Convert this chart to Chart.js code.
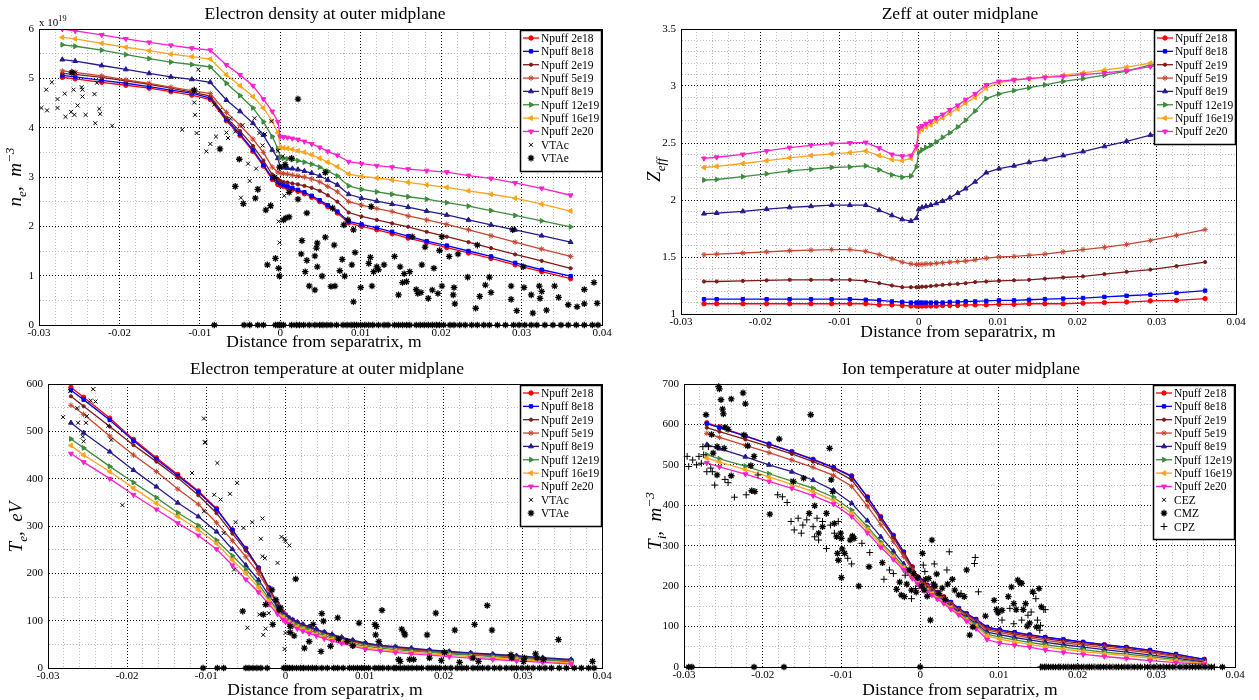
<!DOCTYPE html>
<html>
<head>
<meta charset="utf-8">
<title>Outer midplane profiles</title>
<script src="https://cdn.jsdelivr.net/npm/chart.js@4.4.1/dist/chart.umd.min.js"></script>
<style>
  html, body { margin: 0; padding: 0; background: #fff; }
  #page { position: relative; width: 1259px; height: 700px; overflow: hidden;
          font-family: "Liberation Serif", "Times New Roman", serif; color: #000; }
  canvas { position: absolute; }
  .lbl  { position: absolute; white-space: nowrap; transform: translate(-50%, -50%);
          font-size: 17.5px; z-index: 2; }
  .ylab { position: absolute; white-space: nowrap; transform: translate(-50%, -50%) rotate(-90deg);
          font-size: 19px; font-style: italic; z-index: 2; }
  .ylab sub, .ylab sup { font-size: 70%; }
  .exp  { position: absolute; left: 39px; top: 14px; font-size: 11px; z-index: 2; }
  .exp sup { font-size: 75%; }
</style>
</head>
<body>
<div id="page">
  <canvas id="neChart"   width="615" height="330" style="left:0px;top:14px"></canvas>
  <canvas id="zeffChart" width="620" height="319" style="left:630px;top:14px"></canvas>
  <canvas id="teChart"   width="615" height="318" style="left:0px;top:369px"></canvas>
  <canvas id="tiChart"   width="620" height="317" style="left:630px;top:369px"></canvas>

  <div class="lbl" style="left:325px;top:13px">Electron density at outer midplane</div>
  <div class="lbl" style="left:960px;top:13px">Zeff at outer midplane</div>
  <div class="lbl" style="left:327px;top:368px">Electron temperature at outer midplane</div>
  <div class="lbl" style="left:961px;top:368px">Ion temperature at outer midplane</div>

  <div class="lbl" style="left:324px;top:341px">Distance from separatrix, m</div>
  <div class="lbl" style="left:958px;top:331px">Distance from separatrix, m</div>
  <div class="lbl" style="left:325px;top:689px">Distance from separatrix, m</div>
  <div class="lbl" style="left:960px;top:689px">Distance from separatrix, m</div>

  <div class="ylab" style="left:16px;top:177px">n<sub>e</sub>,&nbsp; m<sup>&minus;3</sup></div>
  <div class="ylab" style="left:656px;top:170px">Z<sub>eff</sub></div>
  <div class="ylab" style="left:18px;top:527px">T<sub>e</sub>,&nbsp; eV</div>
  <div class="ylab" style="left:656px;top:521px">T<sub>i</sub>,&nbsp; m<sup>&minus;3</sup></div>

  <div class="exp">x 10<sup>19</sup></div>
</div>

<script>
// ---- data -------------------------------------------------------------

// radial positions of the simulation cells (m)
const xGrid = [-0.0271, -0.0255, -0.0222, -0.0192, -0.0163, -0.0136, -0.0110, -0.0087, -0.0067, -0.0050,
  -0.0034, -0.0021, -0.0010, -0.0003, 0.0000, 0.0004, 0.0009, 0.0015, 0.0022, 0.0030, 0.0039, 0.0049,
  0.0059, 0.0071, 0.0085, 0.0101, 0.0120, 0.0139, 0.0159, 0.0182, 0.0207, 0.0234, 0.0262, 0.0292, 0.0325, 0.0361];

const caseLabels = ['Npuff 2e18', 'Npuff 8e18', 'Npuff 2e19', 'Npuff 5e19',
                    'Npuff 8e19', 'Npuff 12e19', 'Npuff 16e19', 'Npuff 2e20'];

// electron density, 1e19 m^-3
const ne2e18  = [5.02,4.99,4.92,4.86,4.80,4.73,4.66,4.57,4.14,3.84,3.52,3.22,2.95,2.85,2.83,2.81,2.78,2.75,2.71,2.66,2.59,2.50,2.40,2.27,2.07,2.00,1.93,1.85,1.76,1.67,1.57,1.46,1.35,1.22,1.08,0.94];
const ne8e18  = [5.06,5.03,4.96,4.90,4.83,4.76,4.70,4.60,4.17,3.87,3.55,3.25,2.98,2.90,2.87,2.84,2.81,2.78,2.74,2.69,2.62,2.53,2.43,2.30,2.10,2.04,1.97,1.89,1.80,1.70,1.61,1.50,1.39,1.26,1.12,0.99];
const ne2e19  = [5.10,5.08,5.02,4.95,4.88,4.80,4.72,4.64,4.20,3.93,3.63,3.33,3.05,2.96,2.92,2.90,2.89,2.87,2.85,2.82,2.78,2.72,2.63,2.50,2.28,2.20,2.13,2.06,1.99,1.89,1.79,1.68,1.56,1.43,1.30,1.15];
const ne5e19  = [5.15,5.12,5.05,4.97,4.90,4.82,4.75,4.69,4.31,4.05,3.77,3.50,3.20,3.10,3.08,3.07,3.06,3.04,3.02,3.00,2.96,2.90,2.81,2.70,2.50,2.43,2.36,2.30,2.21,2.13,2.04,1.93,1.81,1.68,1.54,1.39];
const ne8e19  = [5.38,5.35,5.26,5.18,5.10,5.03,4.98,4.92,4.56,4.33,4.09,3.85,3.55,3.38,3.20,3.19,3.18,3.17,3.15,3.12,3.08,3.02,2.94,2.84,2.65,2.57,2.51,2.45,2.39,2.31,2.23,2.13,2.03,1.93,1.81,1.68];
const ne12e19 = [5.68,5.65,5.57,5.48,5.40,5.33,5.28,5.23,4.90,4.65,4.40,4.12,3.82,3.58,3.39,3.38,3.37,3.35,3.33,3.30,3.26,3.20,3.12,3.02,2.82,2.75,2.70,2.65,2.60,2.55,2.48,2.41,2.32,2.22,2.11,1.99];
const ne16e19 = [5.83,5.80,5.71,5.63,5.56,5.49,5.44,5.39,5.07,4.85,4.63,4.40,4.13,3.90,3.60,3.59,3.58,3.56,3.53,3.50,3.45,3.38,3.30,3.21,3.06,3.01,2.98,2.94,2.89,2.84,2.79,2.72,2.65,2.57,2.45,2.31];
const ne2e20  = [6.00,5.96,5.88,5.80,5.73,5.67,5.61,5.57,5.27,5.07,4.85,4.58,4.33,4.12,3.82,3.81,3.80,3.78,3.76,3.72,3.67,3.60,3.52,3.44,3.31,3.27,3.23,3.20,3.16,3.13,3.10,3.03,2.97,2.88,2.77,2.63];

// effective charge
const zeff2e18  = [1.09,1.09,1.09,1.09,1.09,1.09,1.09,1.09,1.09,1.08,1.08,1.075,1.07,1.07,1.07,1.07,1.07,1.07,1.07,1.075,1.075,1.075,1.08,1.08,1.08,1.085,1.085,1.09,1.09,1.09,1.095,1.10,1.105,1.115,1.12,1.135];
const zeff8e18  = [1.13,1.13,1.13,1.13,1.13,1.13,1.13,1.13,1.125,1.12,1.11,1.105,1.10,1.10,1.10,1.10,1.10,1.10,1.10,1.10,1.105,1.105,1.11,1.11,1.115,1.12,1.12,1.125,1.13,1.135,1.14,1.15,1.16,1.17,1.185,1.205];
const zeff2e19  = [1.285,1.285,1.29,1.295,1.30,1.30,1.30,1.30,1.29,1.27,1.25,1.235,1.235,1.235,1.235,1.24,1.24,1.245,1.25,1.255,1.26,1.265,1.27,1.28,1.285,1.29,1.295,1.30,1.31,1.32,1.33,1.35,1.37,1.39,1.42,1.455];
const zeff5e19  = [1.52,1.525,1.535,1.545,1.555,1.56,1.565,1.565,1.55,1.52,1.485,1.455,1.44,1.435,1.435,1.435,1.44,1.44,1.445,1.45,1.455,1.46,1.465,1.475,1.49,1.50,1.505,1.515,1.525,1.545,1.565,1.585,1.61,1.645,1.69,1.74];
const zeff8e19  = [1.88,1.885,1.90,1.92,1.935,1.945,1.955,1.955,1.955,1.91,1.865,1.83,1.815,1.84,1.92,1.935,1.945,1.955,1.97,1.99,2.02,2.06,2.10,2.16,2.24,2.275,2.30,2.33,2.355,2.39,2.425,2.47,2.515,2.57,2.60,2.65];
const zeff12e19 = [2.175,2.18,2.205,2.23,2.255,2.27,2.285,2.29,2.30,2.265,2.22,2.20,2.21,2.29,2.42,2.44,2.46,2.48,2.51,2.55,2.59,2.64,2.70,2.78,2.89,2.93,2.96,2.985,3.01,3.04,3.065,3.095,3.13,3.185,3.21,3.24];
const zeff16e19 = [2.285,2.295,2.32,2.345,2.37,2.39,2.405,2.415,2.43,2.39,2.355,2.345,2.365,2.45,2.60,2.62,2.64,2.66,2.69,2.72,2.76,2.80,2.85,2.90,2.98,3.03,3.05,3.065,3.08,3.095,3.115,3.14,3.165,3.20,3.22,3.25];
const zeff2e20  = [2.365,2.375,2.40,2.43,2.46,2.48,2.495,2.50,2.505,2.455,2.40,2.385,2.39,2.47,2.63,2.65,2.67,2.69,2.72,2.75,2.79,2.83,2.88,2.93,3.01,3.04,3.055,3.065,3.075,3.085,3.10,3.115,3.135,3.17,3.20,3.22];

// electron temperature, eV
const te2e18  = [593,572,528,483,444,409,374,337,292,253,212,170,135,117,112,106,101,96,91,86,80,74,69,63,57,51,46,43,40,36,33,30,27,24,20,16];
const te8e18  = [587,567,524,480,441,406,372,335,291,252,211,169,134,117,112,106,101,96,91,86,80,75,69,63,57,52,47,44,40,37,34,31,28,24,20,16];
const te2e19  = [574,553,510,471,436,402,365,327,284,248,210,168,138,119,112,106,101,96,91,85,80,74,68,62,56,51,46,43,40,36,33,30,27,24,20,16];
const te5e19  = [555,536,490,450,415,378,346,307,269,235,200,165,133,117,112,105,100,95,90,84,79,73,67,61,55,49,45,42,38,35,32,29,26,23,19,15];
const te8e19  = [518,497,457,418,383,349,320,288,251,217,186,154,129,115,110,106,102,97,92,87,82,76,71,65,59,53,48,45,42,38,35,32,29,26,22,18];
const te12e19 = [484,465,426,392,360,328,301,270,237,209,177,147,122,110,105,100,95,90,85,80,74,69,63,57,51,46,42,39,36,33,30,27,24,21,17,13];
const te16e19 = [470,450,415,380,348,320,292,263,228,200,170,142,119,107,102,97,92,87,82,77,71,66,60,55,49,43,39,36,33,30,27,24,21,18,14,10];
const te2e20  = [453,435,400,366,335,306,280,251,217,187,160,135,114,102,98,93,88,83,78,73,68,62,57,52,46,40,36,33,30,27,24,21,18,15,12,8];

// ion temperature, eV
const ti2e18  = [604,594,572,552,533,514,494,473,421,372,326,285,248,223,215,210,203,195,185,174,160,145,132,118,98,92,85,79,73,68,61,55,49,41,31,19];
const ti8e18  = [602,592,571,551,532,513,493,471,420,371,325,284,247,222,214,209,202,194,184,173,160,145,132,118,99,92,86,80,74,68,62,55,49,42,32,19];
const ti2e19  = [592,582,563,545,527,508,488,463,412,365,320,280,245,222,213,208,201,193,183,172,158,143,130,115,95,89,82,76,70,64,58,52,46,38,28,16];
const ti5e19  = [578,568,548,530,512,494,474,447,398,352,310,273,240,218,210,205,198,190,180,169,155,140,127,112,91,85,78,72,66,60,54,48,42,35,26,14];
const ti8e19  = [550,540,520,500,483,462,437,405,362,322,286,255,228,210,205,200,193,185,175,164,151,136,123,108,86,80,73,67,61,55,49,43,37,30,22,12];
const ti12e19 = [525,515,497,478,460,442,420,388,347,309,277,248,224,208,203,198,191,183,173,162,148,133,119,104,81,74,67,61,55,49,43,37,32,26,18,10];
const ti16e19 = [517,507,488,470,452,434,412,380,340,303,272,245,222,207,202,196,189,181,171,160,146,131,117,101,77,69,62,56,50,44,38,33,28,22,15,9];
const ti2e20  = [505,495,477,459,442,424,403,372,332,296,266,240,219,205,200,194,187,178,168,157,143,129,113,95,68,59,54,49,42,36,31,26,21,16,11,7];

// measured points [x (m), value]
const neVTAc = [[-0.0297,4.40],[-0.0291,4.77],[-0.0290,4.35],[-0.0284,4.92],[-0.0277,4.58],[-0.0277,4.40],[-0.0268,4.69],
  [-0.0267,4.22],[-0.0260,4.32],[-0.0257,4.77],[-0.0256,4.26],[-0.0252,4.45],[-0.0247,4.82],[-0.0246,4.63],[-0.0246,4.77],
  [-0.0242,4.26],[-0.0231,4.68],[-0.0228,4.91],[-0.0225,4.38],[-0.0224,4.28],[-0.0230,4.09],[-0.0209,4.04],[-0.0255,5.12],
  [-0.0122,3.96],[-0.0107,4.51],[-0.0106,4.26],[-0.0104,3.89],[-0.0102,5.18],[-0.0092,3.52],[-0.0087,3.67],[-0.0082,4.47],
  [-0.0080,3.82],[-0.0075,4.36],[-0.0067,3.90],[-0.0065,3.79],[-0.0062,4.18],[-0.0056,3.92],[-0.0049,2.58],[-0.0047,4.05],
  [-0.0040,3.27],[-0.0038,2.92],[-0.0032,4.19],[-0.0030,3.17],[-0.0027,2.77],[-0.0026,3.89],[-0.0022,3.64],[-0.0019,3.87],
  [-0.0012,2.40],[-0.0011,4.13],[-0.0002,2.10],[-0.0001,1.67],[-0.0003,3.53],[0.0003,3.42],[0.0005,2.62]];
const neVTAe = [[-0.0259,5.12],[-0.0107,4.76],[-0.0075,3.57],[-0.0056,2.81],[-0.0051,3.36],[-0.0046,2.46],[-0.0031,2.57],
  [-0.0028,2.75],[-0.0018,2.33],[-0.0012,2.42],[-0.0007,2.99],[-0.0001,3.20],[0.0006,3.25],[0.0014,3.38],[0.0011,2.69],
  [0.0022,2.55],[0.0033,2.27],[0.0022,4.58],[-0.0016,1.22],[-0.0006,1.35],[-0.0002,1.15],[-0.0001,0.99],[0.0004,2.13],
  [0.0007,2.17],[0.0011,2.19],[0.0027,1.71],[0.0026,1.44],[0.0033,1.31],[0.0031,1.08],[0.0036,0.79],[0.0043,0.71],
  [0.0045,1.56],[0.0046,1.66],[0.0043,1.40],[0.0046,1.18],[0.0052,0.99],[0.0056,1.78],[0.0056,3.09],[0.0063,0.78],
  [0.0067,1.62],[0.0068,0.79],[0.0065,2.37],[0.0074,1.10],[0.0077,1.33],[0.0080,0.99],[0.0079,2.03],[0.0084,2.13],
  [0.0089,1.22],[0.0091,0.47],[0.0093,1.47],[0.0091,1.93],[0.0100,0.76],[0.0110,1.25],[0.0112,1.37],[0.0114,0.79],
  [0.0113,2.40],[0.0116,1.08],[0.0120,1.18],[0.0122,1.12],[0.0129,1.22],[0.0142,1.39],[0.0147,0.61],[0.0149,1.18],
  [0.0152,0.86],[0.0154,1.04],[0.0157,0.88],[0.0161,1.08],[0.0164,1.79],[0.0169,0.72],[0.0171,0.64],[0.0175,0.66],
  [0.0176,1.22],[0.0180,1.58],[0.0184,0.54],[0.0189,0.71],[0.0191,1.15],[0.0196,0.64],[0.0198,1.51],[0.0201,0.79],
  [0.0201,1.79],[0.0210,1.39],[0.0215,0.61],[0.0216,0.76],[0.0217,0.43],[0.0221,1.44],[0.0233,0.97],[0.0243,0.34],
  [0.0245,1.62],[0.0248,0.58],[0.0255,0.81],[0.0260,0.97],[0.0262,0.66],[0.0287,0.79],[0.0287,0.52],[0.0289,1.93],
  [0.0294,0.29],[0.0302,1.18],[0.0303,0.76],[0.0312,0.61],[0.0314,0.24],[0.0322,0.79],[0.0323,0.54],[0.0325,0.68],
  [0.0331,0.30],[0.0341,0.79],[0.0346,0.56],[0.0358,0.41],[0.0369,0.37],[0.0378,0.72],[0.0378,0.43],[0.0390,0.86],[0.0394,0.44]];
// VTAe channels that returned zero
const neVTAeZeroX = [-0.0082,-0.0045,-0.0038,-0.0028,-0.0021,-0.0006,-0.0003,-0.0001,0.0001,0.0004,0.0014,0.0020,0.0024,
  0.0029,0.0036,0.0043,0.0049,0.0053,0.0058,0.0063,0.0070,0.0078,0.0083,0.0088,0.0092,0.0095,0.0100,0.0105,0.0110,0.0115,
  0.0122,0.0129,0.0134,0.0142,0.0147,0.0152,0.0157,0.0161,0.0169,0.0174,0.0179,0.0184,0.0189,0.0194,0.0198,0.0203,0.0211,
  0.0216,0.0223,0.0230,0.0238,0.0245,0.0253,0.0260,0.0270,0.0280,0.0290,0.0297,0.0304,0.0312,0.0319,0.0329,0.0339,0.0349,
  0.0358,0.0368,0.0378,0.0388,0.0395];

const teVTAc = [[-0.0281,530],[-0.0272,585],[-0.0263,549],[-0.0262,518],[-0.0256,489],[-0.0255,479],[-0.0252,518],
  [-0.0251,532],[-0.0243,589],[-0.0240,563],[-0.0246,565],[-0.0224,512],[-0.0220,482],[-0.0206,344],[-0.0118,412],
  [-0.0103,527],[-0.0102,477],[-0.0101,477],[-0.0103,331],[-0.0090,366],[-0.0086,433],[-0.0082,356],[-0.0070,368],
  [-0.0061,391],[-0.0063,308],[-0.0078,285],[-0.0065,208],[-0.0053,296],[-0.0042,308],[-0.0029,316],[-0.0031,273],
  [-0.0029,236],[-0.0026,232],[-0.0048,85],[-0.0028,70],[-0.0025,83],[-0.0010,222],[-0.0005,277],[-0.0001,273],
  [0.0000,268],[0.0005,259],[0.0000,74],[-0.0001,40],[-0.0021,116],[-0.0033,113]];
const teVTAe = [[-0.0054,120],[-0.0028,113],[-0.0017,165],[-0.0008,123],[-0.0016,92],[0.0013,188],[0.0006,75],[0.0011,68],
  [0.0024,42],[0.0030,56],[0.0035,92],[0.0045,35],[0.0046,115],[0.0048,99],[0.0057,46],[0.0066,106],[0.0067,61],
  [0.0078,56],[0.0085,47],[0.0093,95],[0.0113,92],[0.0115,88],[0.0114,70],[0.0118,56],[0.0122,122],[0.0143,18],
  [0.0145,14],[0.0147,82],[0.0150,74],[0.0151,70],[0.0157,18],[0.0162,18],[0.0179,70],[0.0182,21],[0.0190,116],
  [0.0197,16],[0.0201,33],[0.0214,80],[0.0220,12],[0.0237,21],[0.0239,92],[0.0244,14],[0.0255,132],[0.0261,80],
  [0.0285,28],[0.0286,21],[0.0301,14],[0.0302,21],[0.0316,30],[0.0318,21],[0.0326,18],[0.0345,60],[0.0388,14],
  [-0.0025,134],[-0.0012,144],[-0.0006,127],[0.0006,88]];
const teVTAeZeroX = [-0.0104,-0.0086,-0.0078,-0.0050,-0.0046,-0.0041,-0.0036,-0.0031,-0.0023,-0.0002,0.0000,0.0002,0.0005,
  0.0009,0.0014,0.0019,0.0023,0.0029,0.0034,0.0039,0.0046,0.0053,0.0061,0.0066,0.0073,0.0081,0.0086,0.0091,0.0096,0.0100,
  0.0105,0.0113,0.0118,0.0123,0.0130,0.0137,0.0140,0.0145,0.0150,0.0155,0.0160,0.0166,0.0172,0.0180,0.0185,0.0190,0.0195,
  0.0202,0.0209,0.0217,0.0223,0.0229,0.0237,0.0243,0.0249,0.0256,0.0264,0.0271,0.0279,0.0286,0.0292,0.0299,0.0306,0.0313,
  0.0321,0.0328,0.0336,0.0346,0.0355,0.0365,0.0374,0.0383,0.0390];

const tiCEZZeroX = [0.0157, 0.0203, 0.0262, 0.0318, 0.0352];
const tiCMZ = [[-0.0272,624],[-0.0256,694],[-0.0255,688],[-0.0253,661],[-0.0250,626],[-0.0251,638],[-0.0248,593],
  [-0.0244,588],[-0.0240,663],[-0.0225,678],[-0.0222,651],[-0.0224,574],[-0.0219,547],[-0.0211,521],[-0.0215,498],
  [-0.0214,436],[-0.0210,434],[-0.0240,473],[-0.0249,541],[-0.0258,475],[-0.0263,529],[-0.0265,575],[-0.0258,545],
  [-0.0191,378],[-0.0179,564],[-0.0161,459],[-0.0148,467],[-0.0139,624],[-0.0134,399],[-0.0141,380],[-0.0115,541],
  [-0.0111,434],[-0.0113,463],[-0.0101,331],[-0.0100,318],[-0.0099,292],[-0.0100,221],[-0.0096,281],[-0.0089,314],
  [-0.0086,324],[-0.0078,200],[-0.0065,248],[-0.0048,258],[-0.0030,192],[-0.0024,178],[-0.0020,174],[-0.0014,240],
  [-0.0008,231],[-0.0003,221],[0.0003,281],[0.0007,217],[0.0011,219],[0.0013,116],[0.0015,314],[0.0019,200],
  [0.0024,182],[0.0032,167],[0.0041,217],[0.0049,178],[0.0056,174],[0.0059,240],[0.0063,79],[0.0067,99],[0.0083,126],
  [0.0094,165],[0.0097,142],[0.0099,134],[0.0104,140],[0.0112,174],[0.0116,198],[0.0119,157],[0.0122,142],[0.0124,215],
  [0.0127,208],[0.0129,207],[0.0131,142],[0.0134,157],[0.0136,101],[0.0139,109],[0.0143,186],[0.0148,99],[0.0151,194],
  [0.0154,149],[-0.0129,331],[-0.0124,347],[-0.0119,380],[-0.0109,355],[-0.0106,322],[-0.0105,281],[-0.0104,264],
  [-0.0084,318],[-0.0026,210],[-0.0017,205],[-0.0011,190],[-0.0005,185],[0.0002,200],[0.0005,190],[0.0009,175],
  [0.0017,205],[0.0021,230],[0.0028,195],[0.0035,205],[0.0044,190]];
const tiCMZZeroX = [-0.0294,-0.0290,-0.0211,-0.0173,0.0000,0.0155,0.0160,0.0166,0.0172,0.0178,0.0185,0.0192,0.0198,0.0205,
  0.0212,0.0218,0.0226,0.0233,0.0241,0.0249,0.0256,0.0264,0.0272,0.0280,0.0289,0.0297,0.0305,0.0313,0.0321,0.0330,
  0.0338,0.0346,0.0354,0.0362,0.0370,0.0384];
const tiCPZ = [[-0.0296,521],[-0.0294,496],[-0.0289,512],[-0.0284,500],[-0.0281,521],[-0.0278,504],[-0.0275,525],
  [-0.0271,483],[-0.0266,492],[-0.0264,483],[-0.0261,450],[-0.0269,545],[-0.0276,545],[-0.0248,464],[-0.0244,456],
  [-0.0236,420],[-0.0221,426],[-0.0206,475],[-0.0181,426],[-0.0175,421],[-0.0169,407],[-0.0164,360],[-0.0160,339],
  [-0.0155,368],[-0.0151,331],[-0.0149,351],[-0.0144,364],[-0.0136,347],[-0.0134,322],[-0.0131,368],[-0.0129,314],
  [-0.0124,360],[-0.0119,293],[-0.0114,351],[-0.0109,331],[-0.0104,360],[-0.0092,269],[-0.0087,255],[-0.0074,306],
  [-0.0064,283],[-0.0046,217],[-0.0039,240],[-0.0034,231],[-0.0019,227],[-0.0011,169],[-0.0006,194],[0.0004,252],
  [0.0006,236],[0.0018,255],[0.0034,240],[0.0037,285],[0.0052,182],[0.0070,271],[0.0069,256],[0.0074,186],[0.0104,116],
  [0.0114,145],[0.0119,107],[0.0129,116],[0.0137,128],[0.0141,136],[0.0144,182],[0.0147,169],[0.0149,116],[0.0152,91],
  [0.0153,103],[0.0157,142],[0.0159,142]];
const tiCPZZeroX = [0.0153,0.0158,0.0163,0.0169,0.0176,0.0182,0.0188,0.0195,0.0201,0.0208,0.0215,0.0222,0.0229,0.0237,
  0.0245,0.0252,0.0260,0.0268,0.0276,0.0285,0.0293,0.0301,0.0309,0.0317,0.0325,0.0334,0.0342,0.0350,0.0358,0.0366,0.0374];

// axis ticks
const xTicks      = [-0.03, -0.02, -0.01, 0, 0.01, 0.02, 0.03, 0.04];
const xTickLabels = ['-0.03', '-0.02', '-0.01', '0', '0.01', '0.02', '0.03', '0.04'];
const neTicks     = [0, 1, 2, 3, 4, 5, 6];
const zeffTicks   = [1, 1.5, 2, 2.5, 3, 3.5];
const teTicks     = [0, 100, 200, 300, 400, 500, 600];
const tiTicks     = [0, 100, 200, 300, 400, 500, 600, 700];

// ---- styles -----------------------------------------------------------

const caseColors  = ['#ff0000', '#0000ff', '#7d1a1a', '#c8452f', '#241a8c', '#3d8c3d', '#ffa31a', '#ff1fcc'];
const caseMarkers = [
  { style: 'circle',   r: 2.2, rot: 0 },
  { style: 'rect',     r: 2.4, rot: 0 },
  { style: 'circle',   r: 1.6, rot: 0 },
  { style: 'star',     r: 2.8, rot: 0 },
  { style: 'triangle', r: 2.8, rot: 0 },
  { style: 'triangle', r: 2.8, rot: 90 },
  { style: 'triangle', r: 2.8, rot: -90 },
  { style: 'triangle', r: 2.8, rot: 180 }
];

Chart.defaults.font.family = '"Liberation Serif", "Times New Roman", serif';
Chart.defaults.font.size = 11;
Chart.defaults.color = '#000';

// 1) helpers to turn arrays into point lists
const onGrid  = ys => xGrid.map((x, i) => ({ x: x, y: ys[i] }));
const fromXY  = list => list.map(p => ({ x: p[0], y: p[1] }));
const zeroRow = xs => xs.map(x => ({ x: x, y: 0 }));

function caseDatasets(series) {
  return series.map((ys, i) => ({
    label: caseLabels[i],
    data: onGrid(ys),
    showLine: true,
    borderColor: caseColors[i],
    backgroundColor: caseColors[i],
    borderWidth: 1.3,
    pointStyle: caseMarkers[i].style,
    pointRadius: caseMarkers[i].r,
    pointRotation: caseMarkers[i].rot,
    pointBorderWidth: 1,
    pointBackgroundColor: caseColors[i],
    pointBorderColor: caseColors[i],
    order: 10 - i
  }));
}

function measuredDataset(label, points, style) {
  const look = {
    x:    { pointStyle: 'crossRot', pointRadius: 2.8, pointBorderWidth: 1 },
    star: { pointStyle: 'star',     pointRadius: 3.3, pointBorderWidth: 1.3 },
    plus: { pointStyle: 'cross',    pointRadius: 3.4, pointBorderWidth: 1 }
  }[style];
  return Object.assign({
    label: label,
    data: points,
    showLine: false,
    borderColor: '#000',
    backgroundColor: '#000',
    pointBackgroundColor: '#000',
    pointBorderColor: '#000',
    borderWidth: 1,
    clip: false,
    order: 0
  }, look);
}

// 2) frame + boxed legend in the upper right corner of the axes
const boxLegend = {
  id: 'boxLegend',
  afterDraw(chart) {
    const { ctx, chartArea: a } = chart;
    const sets = chart.data.datasets;
    ctx.save();
    ctx.setLineDash([]);
    ctx.strokeStyle = '#000';
    ctx.lineWidth = 1;
    ctx.strokeRect(Math.round(a.left) + 0.5, Math.round(a.top) + 0.5,
                   Math.round(a.right - a.left), Math.round(a.bottom - a.top));

    ctx.font = '11.5px "Liberation Serif"';
    const textW = Math.max(...sets.map(ds => ctx.measureText(ds.label).width));
    const rowH = 13.35;
    const w = Math.round(textW + 24);
    const h = Math.round(sets.length * rowH + 7);
    const bx = Math.round(a.right) - w;
    const by = Math.round(a.top) + 1;
    ctx.fillStyle = '#fff';
    ctx.fillRect(bx, by, w, h);
    ctx.lineWidth = 1.5;
    ctx.strokeRect(bx + 0.5, by + 0.5, w - 1, h);

    ctx.textBaseline = 'middle';
    sets.forEach((ds, i) => {
      const cy = by + 8 + i * rowH;
      ctx.strokeStyle = ds.borderColor;
      ctx.fillStyle = ds.pointBackgroundColor;
      if (ds.showLine) {
        ctx.lineWidth = ds.borderWidth;
        ctx.beginPath();
        ctx.moveTo(bx + 3, cy);
        ctx.lineTo(bx + 19, cy);
        ctx.stroke();
      }
      ctx.lineWidth = ds.pointBorderWidth;
      Chart.helpers.drawPoint(ctx, {
        pointStyle: ds.pointStyle,
        rotation: ds.pointRotation || 0,
        radius: ds.pointRadius,
        borderWidth: ds.pointBorderWidth
      }, bx + 11, cy);
      ctx.fillStyle = '#000';
      ctx.fillText(ds.label, bx + 21, cy + 1);
    });
    ctx.restore();
  }
};

// 3) axis with MATLAB-like major + minor dotted grid
function gridAxis(majors, labels, minorStep, min, max, fitSize, horizontal) {
  const isMajor = v => majors.some(m => Math.abs(m - v) < 1e-9);
  const values = [];
  const n = Math.round((max - min) / minorStep);
  for (let k = 0; k <= n; k++) values.push(+(min + k * minorStep).toFixed(6));
  return {
    type: 'linear',
    min: min,
    max: max,
    afterBuildTicks: axis => { axis.ticks = values.map(v => ({ value: v })); },
    afterFit: axis => { if (horizontal) axis.height = fitSize; else axis.width = fitSize; },
    ticks: {
      autoSkip: false,
      maxRotation: 0,
      padding: horizontal ? 2 : 5,
      callback: v => {
        const i = majors.findIndex(m => Math.abs(m - v) < 1e-9);
        return i >= 0 ? labels[i] : '';
      }
    },
    grid: {
      drawTicks: false,
      lineWidth: 1,
      color: c => (c.tick && isMajor(c.tick.value)) ? '#000' : '#bdbdbd'
    },
    border: {
      display: true,
      color: '#000',
      dash: c => c.tick ? [1, 2] : []
    }
  };
}

// 4) build one panel
function makePanel(canvasId, datasets, yAxis, padTop, padRight) {
  return new Chart(document.getElementById(canvasId), {
    type: 'scatter',
    data: { datasets: datasets },
    options: {
      responsive: false,
      animation: false,
      events: [],
      layout: { padding: { left: 0, top: padTop, right: padRight, bottom: 0 } },
      plugins: { legend: { display: false }, tooltip: { enabled: false } },
      scales: {
        x: gridAxis(xTicks, xTickLabels, 0.002, -0.03, 0.04, 19, true),
        y: yAxis
      }
    },
    plugins: [boxLegend]
  });
}

// 5) the four panels
makePanel('neChart',
  caseDatasets([ne2e18, ne8e18, ne2e19, ne5e19, ne8e19, ne12e19, ne16e19, ne2e20]).concat([
    measuredDataset('VTAc', fromXY(neVTAc), 'x'),
    measuredDataset('VTAe', fromXY(neVTAe).concat(zeroRow(neVTAeZeroX)), 'star')
  ]),
  gridAxis(neTicks, neTicks.map(String), 0.5, 0, 6, 39, false), 15, 13);

makePanel('zeffChart',
  caseDatasets([zeff2e18, zeff8e18, zeff2e19, zeff5e19, zeff8e19, zeff12e19, zeff16e19, zeff2e20]),
  gridAxis(zeffTicks, zeffTicks.map(String), 0.1, 1, 3.5, 51, false), 15, 14);

makePanel('teChart',
  caseDatasets([te2e18, te8e18, te2e19, te5e19, te8e19, te12e19, te16e19, te2e20]).concat([
    measuredDataset('VTAc', fromXY(teVTAc), 'x'),
    measuredDataset('VTAe', fromXY(teVTAe).concat(zeroRow(teVTAeZeroX)), 'star')
  ]),
  gridAxis(teTicks, teTicks.map(String), 50, 0, 600, 48, false), 15, 13);

makePanel('tiChart',
  caseDatasets([ti2e18, ti8e18, ti2e19, ti5e19, ti8e19, ti12e19, ti16e19, ti2e20]).concat([
    measuredDataset('CEZ', zeroRow(tiCEZZeroX), 'x'),
    measuredDataset('CMZ', fromXY(tiCMZ).concat(zeroRow(tiCMZZeroX)), 'star'),
    measuredDataset('CPZ', fromXY(tiCPZ).concat(zeroRow(tiCPZZeroX)), 'plus')
  ]),
  gridAxis(tiTicks, tiTicks.map(String), 50, 0, 700, 54, false), 15, 15);
</script>
</body>
</html>
